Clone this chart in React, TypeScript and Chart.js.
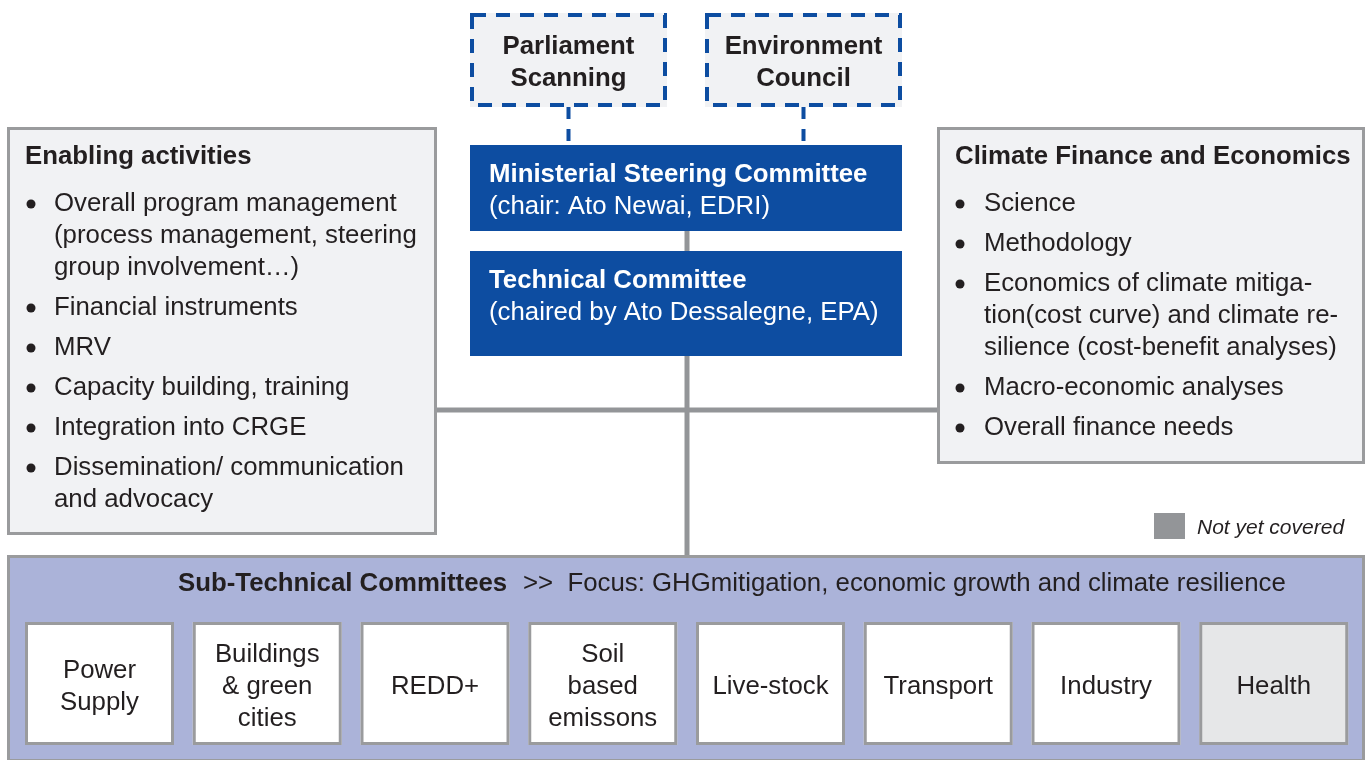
import React, { useEffect, useRef } from "react";
import { Chart, registerables } from "chart.js";

Chart.register(...registerables);

// ---------- content ----------
const topBodies: string[][] = [["Parliament", "Scanning"], ["Environment", "Council"]];
const committeeTitles: string[] = ["Ministerial Steering Committee", "Technical Committee"];
const committeeChairs: string[] = ["(chair: Ato Newai, EDRI)", "(chaired by Ato Dessalegne, EPA)"];
const leftTitle = "Enabling activities";
const leftItems: string[][] = [
  ["Overall program management", "(process management, steering", "group involvement…)"],
  ["Financial instruments"],
  ["MRV"],
  ["Capacity building, training"],
  ["Integration into CRGE"],
  ["Dissemination/ communication", "and advocacy"],
];
const rightTitle = "Climate Finance and Economics";
const rightItems: string[][] = [
  ["Science"],
  ["Methodology"],
  ["Economics of climate mitiga-", "tion(cost curve) and climate re-", "silience (cost-benefit analyses)"],
  ["Macro-economic analyses"],
  ["Overall finance needs"],
];
const subTitleBold = "Sub-Technical Committees";
const subTitleRest = ">>  Focus: GHGmitigation, economic growth and climate resilience";
const subCommittees: string[][] = [
  ["Power", "Supply"],
  ["Buildings", "& green", "cities"],
  ["REDD+"],
  ["Soil", "based", "emissons"],
  ["Live-stock"],
  ["Transport"],
  ["Industry"],
  ["Health"],
];
const subCovered: boolean[] = [true, true, true, true, true, true, true, false];
const legendLabel = "Not yet covered";

// ---------- styling / layout ----------
const FONT = '"Liberation Sans", Arial, sans-serif';
const TEXT = "#231f20";
const BLUE = "#0d4da1";
const LINE_GRAY = "#939598";
const BOX_FILL = "#f1f2f4";
const BOX_BORDER = "#9a9b9d";
const PANEL_FILL = "#abb3d9";
const UNCOVERED_FILL = "#e6e7e8";
const TEXT_DY = 2;

const L = {
  top: [{ x0: 470, x1: 667 }, { x0: 705, x1: 902 }],
  topY: [13, 107],
  blueX: [470, 902],
  blueY: [[145, 231], [251, 356]],
  left: { x0: 7, x1: 437, y0: 127, y1: 535, bulletX: 31, textX: 54 },
  right: { x0: 937, x1: 1365, y0: 127, y1: 464, bulletX: 960, textX: 984 },
  titleY: 155,
  firstItemY: 202,
  lineH: 32,
  itemGap: 8,
  spineX: 687,
  crossY: 410,
  panel: { x0: 7, x1: 1365, y0: 555, y1: 762 },
  panelTitleX: 178,
  panelRestX: 523,
  panelTitleY: 582,
  sub: { x0: 25, step: 167.75, w: 149, y0: 622, y1: 745 },
  legend: { x0: 1154, x1: 1185, y0: 513, y1: 539, textX: 1197, textY: 527 },
};

const orgPlugin = {
  id: "orgDiagram",
  afterDraw(chart: any) {
    const ctx: CanvasRenderingContext2D = chart.ctx;
    const xs = chart.scales.x;
    const ys = chart.scales.y;
    const px = (v: number) => xs.getPixelForValue(v);
    const py = (v: number) => ys.getPixelForValue(v);

    const rect = (x0: number, y0: number, x1: number, y1: number, fill: string | null, stroke: string | null, lw = 3, dash: number[] = []) => {
      const a = px(x0), b = py(y0), c = px(x1), d = py(y1);
      if (fill) {
        ctx.fillStyle = fill;
        ctx.fillRect(a, b, c - a, d - b);
      }
      if (stroke) {
        ctx.save();
        ctx.strokeStyle = stroke;
        ctx.lineWidth = lw;
        ctx.setLineDash(dash);
        const h = lw / 2;
        ctx.strokeRect(a + h, b + h, c - a - lw, d - b - lw);
        ctx.restore();
      }
    };
    const line = (x0: number, y0: number, x1: number, y1: number, color: string, lw: number, dash: number[] = []) => {
      ctx.save();
      ctx.strokeStyle = color;
      ctx.lineWidth = lw;
      ctx.setLineDash(dash);
      ctx.beginPath();
      ctx.moveTo(px(x0), py(y0));
      ctx.lineTo(px(x1), py(y1));
      ctx.stroke();
      ctx.restore();
    };
    const text = (s: string, x: number, y: number, font: string, color: string, align: CanvasTextAlign = "left") => {
      ctx.save();
      ctx.font = font;
      ctx.fillStyle = color;
      ctx.textAlign = align;
      ctx.textBaseline = "middle";
      ctx.fillText(s, px(x), py(y + TEXT_DY));
      ctx.restore();
    };
    const dot = (x: number, y: number, r: number, color: string) => {
      ctx.save();
      ctx.fillStyle = color;
      ctx.beginPath();
      ctx.arc(px(x), py(y), r, 0, Math.PI * 2);
      ctx.fill();
      ctx.restore();
    };

    const REG = `25.8px ${FONT}`;
    const BOLD = `bold 25.8px ${FONT}`;

    // connectors
    line(L.spineX, L.blueY[0][1], L.spineX, L.panel.y0, LINE_GRAY, 5);
    line(L.left.x1, L.crossY, L.right.x0, L.crossY, LINE_GRAY, 5);
    L.top.forEach((t) => {
      const cx = (t.x0 + t.x1) / 2;
      line(cx, L.topY[1], cx, L.blueY[0][0], BLUE, 4, [12, 10]);
    });

    // top dashed boxes
    L.top.forEach((t, i) => {
      rect(t.x0, L.topY[0], t.x1, L.topY[1], BOX_FILL, BLUE, 4, [14, 10]);
      const cx = (t.x0 + t.x1) / 2;
      topBodies[i].forEach((s, j) => text(s, cx, 45 + j * L.lineH, BOLD, TEXT, "center"));
    });

    // blue committee boxes
    L.blueY.forEach(([y0, y1], i) => {
      rect(L.blueX[0], y0, L.blueX[1], y1, BLUE, null);
      text(committeeTitles[i], L.blueX[0] + 19, y0 + 28, BOLD, "#ffffff");
      text(committeeChairs[i], L.blueX[0] + 19, y0 + 60, REG, "#ffffff");
    });

    // side boxes
    const sideBox = (b: any, title: string, items: string[][]) => {
      rect(b.x0, b.y0, b.x1, b.y1, BOX_FILL, BOX_BORDER, 3);
      text(title, b.x0 + 18, L.titleY, BOLD, TEXT);
      let y = L.firstItemY;
      items.forEach((lines) => {
        dot(b.bulletX, y + TEXT_DY, 4.5, TEXT);
        lines.forEach((s) => {
          text(s, b.textX, y, REG, TEXT);
          y += L.lineH;
        });
        y += L.itemGap;
      });
    };
    sideBox(L.left, leftTitle, leftItems);
    sideBox(L.right, rightTitle, rightItems);

    // legend
    rect(L.legend.x0, L.legend.y0, L.legend.x1, L.legend.y1, LINE_GRAY, null);
    text(legendLabel, L.legend.textX, L.legend.textY - 1, `italic 21px ${FONT}`, TEXT);

    // sub-technical panel
    rect(L.panel.x0, L.panel.y0, L.panel.x1, L.panel.y1, PANEL_FILL, BOX_BORDER, 3);
    text(subTitleBold, L.panelTitleX, L.panelTitleY, BOLD, TEXT);
    text(subTitleRest, L.panelRestX, L.panelTitleY, REG, TEXT);
    subCommittees.forEach((lines, i) => {
      const x0 = L.sub.x0 + i * L.sub.step;
      const x1 = x0 + L.sub.w;
      rect(x0, L.sub.y0, x1, L.sub.y1, subCovered[i] ? "#ffffff" : UNCOVERED_FILL, BOX_BORDER, 3);
      const cy = (L.sub.y0 + L.sub.y1) / 2 + 1;
      const start = cy - ((lines.length - 1) * L.lineH) / 2;
      lines.forEach((s, j) => text(s, (x0 + x1) / 2, start + j * L.lineH, REG, TEXT, "center"));
    });
  },
};

export default function App() {
  const ref = useRef<HTMLCanvasElement>(null);
  useEffect(() => {
    if (!ref.current) return;
    const chart = new Chart(ref.current, {
      type: "scatter",
      data: { datasets: [{ data: [], pointRadius: 0 }] },
      options: {
        responsive: false,
        maintainAspectRatio: false,
        animation: false,
        events: [],
        layout: { padding: 0 },
        plugins: { legend: { display: false }, tooltip: { enabled: false } },
        scales: {
          x: { type: "linear", min: 0, max: 1370, display: false },
          y: { type: "linear", min: 0, max: 760, reverse: true, display: false },
        },
      },
      plugins: [orgPlugin],
    });
    return () => chart.destroy();
  }, []);
  return (
    <div style={{ position: "fixed", left: 0, top: 0, width: 1370, height: 760, background: "#ffffff" }}>
      <canvas ref={ref} width={1370} height={760} style={{ display: "block" }} />
    </div>
  );
}
